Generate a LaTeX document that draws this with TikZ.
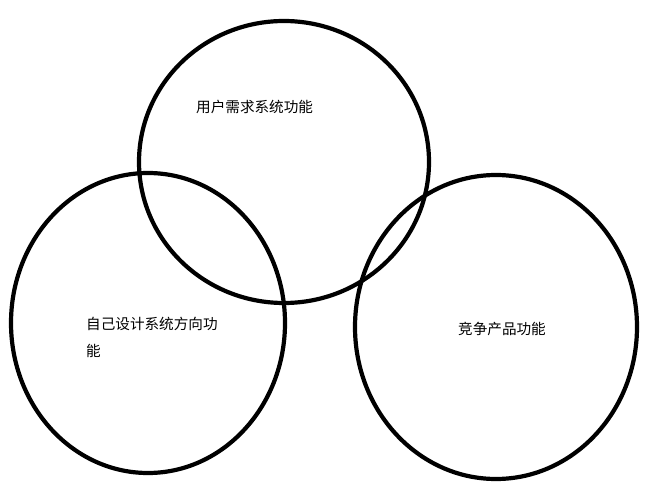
\documentclass[tikz,border=0pt]{standalone}
\usepackage{fontspec}
\newfontfamily\cjk{Noto Sans CJK SC}
\usetikzlibrary{shapes.geometric}
\begin{document}
\begin{tikzpicture}[x=1pt,y=-1pt,
  ring/.style={ellipse, draw=black, line width=4.2pt, inner sep=0pt, outer sep=0pt},
  lbl/.style={anchor=base west, align=left, inner sep=0pt, font=\cjk\fontsize{14.6}{27}\selectfont}]
\fill[white] (0,0) rectangle (646,492);
\useasboundingbox (0,0) rectangle (646,492);
\node[ring, minimum width=290pt, minimum height=282pt] (user) at (284,162) {};
\node[ring, minimum width=274pt, minimum height=300pt] (self) at (148,323) {};
\node[ring, minimum width=282pt, minimum height=304pt] (comp) at (496,327) {};
\node[lbl] (tuser) at (196,113) {用户需求系统功能};
\node[lbl] (tself) at (86,356) {自己设计系统方向功\\能};
\node[lbl] (tcomp) at (458,334) {竞争产品功能};
\end{tikzpicture}
\end{document}
